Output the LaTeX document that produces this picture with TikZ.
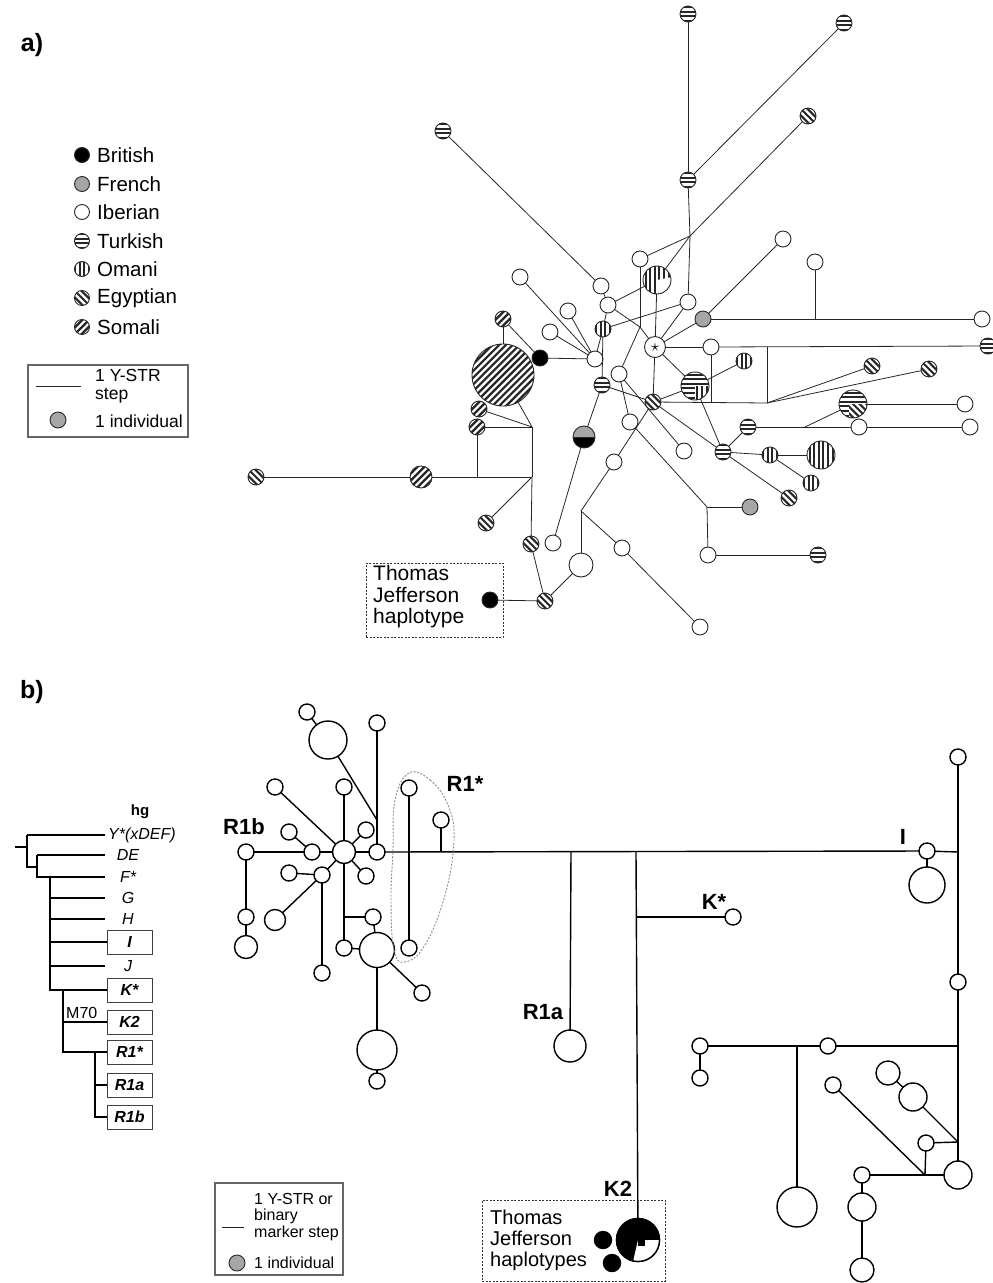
\documentclass[tikz,border=0pt]{standalone}
\usepackage{fontspec}
\setmainfont{Liberation Sans}
\newcommand\HSt[2]{\foreach \i in {-12,...,12}{\draw[line width=#2] (-60pt,{(\i+0.5)*#1}) -- (60pt,{(\i+0.5)*#1});}}
\newcommand\VSt[2]{\foreach \i in {-12,...,12}{\draw[line width=#2] ({(\i+0.5)*#1},-60pt) -- ({(\i+0.5)*#1},60pt);}}
\newcommand\NESt[2]{\foreach \i in {-14,...,14}{\draw[line width=#2] ({\i*#1*1.4142-60pt},-60pt) -- ++(120pt,120pt);}}
\newcommand\NWSt[2]{\foreach \i in {-14,...,14}{\draw[line width=#2] ({\i*#1*1.4142-60pt},60pt) -- ++(120pt,-120pt);}}
\newcommand\fsA{\fontsize{20.5}{23}\selectfont}
\newcommand\fsB{\fontsize{17.5}{18.5}\selectfont}
\newcommand\fsBb{\fontsize{16}{16.8}\selectfont}
\newcommand\fsT{\fontsize{16}{18}\selectfont}
\newcommand\fsL{\fontsize{22}{24}\selectfont\bfseries}
\newcommand\fsJ{\fontsize{21}{21.5}\selectfont}
\newcommand\fsJb{\fontsize{20}{21}\selectfont}
\newcommand\fsH{\fontsize{25}{27}\selectfont\bfseries}
\tikzset{
 pp/.style={path picture={\begin{scope}[shift={(path picture bounding box.center)}]#1\end{scope}}},
 nd/.style={circle, draw=black!85, line width=0.9pt, inner sep=0pt, outer sep=0pt, minimum size=#1, fill=white},
 nd/.default=16pt,
 wa/.style={nd=#1}, wa/.default=16pt,
 bka/.style={nd=#1, fill=black}, bka/.default=16pt,
 fra/.style={nd=#1, fill=black!35}, fra/.default=16pt,
 tka/.style={nd=#1, pp={\HSt{4.6pt}{2pt}}}, tka/.default=16pt,
 oma/.style={nd=#1, pp={\VSt{4.6pt}{2pt}}}, oma/.default=16pt,
 ega/.style={nd=#1, pp={\NWSt{4.7pt}{2.1pt}}}, ega/.default=16pt,
 soa/.style={nd=#1, pp={\NESt{4.8pt}{2.2pt}}}, soa/.default=16pt,
 hga/.style={nd=#1, pp={\fill[black!35] (-20pt,0pt) rectangle (20pt,20pt); \fill[black] (-20pt,0pt) rectangle (20pt,-20pt); \draw[line width=0.8pt] (-20pt,0pt) -- (20pt,0pt);}},
 toa/.style={nd=#1, pp={\HSt{4.6pt}{2pt}\begin{scope}\clip (0pt,0pt) rectangle (20pt,-20pt); \fill[white] (0pt,0pt) rectangle (20pt,-20pt); \VSt{4.6pt}{2pt}\end{scope}}},
 oba/.style={nd=#1, pp={\VSt{4.6pt}{2pt}\fill[white] (0pt,0pt) -- (20pt,4pt) -- (20pt,-20pt) -- (2pt,-20pt) -- cycle;}},
 tea/.style={nd=#1, pp={\HSt{4.6pt}{2pt}\begin{scope}\clip (-4pt,0pt) rectangle (20pt,-20pt); \fill[white] (-4pt,0pt) rectangle (20pt,-20pt); \NWSt{4.7pt}{2.1pt}\end{scope}}},
 la/.style={line width=0.8pt, black!85},
 wb/.style={circle, draw, line width=1.4pt, inner sep=0pt, outer sep=0pt, minimum size=#1, fill=white}, wb/.default=16pt,
 bkb/.style={wb=#1, fill=black}, bkb/.default=16pt,
 lb/.style={line width=1.4pt},
 tr/.style={line width=2pt},
 hbox/.style={draw=black!75, line width=1pt, minimum width=45pt, minimum height=24pt, inner sep=0pt, font=\fsT\bfseries\itshape},
 hlab/.style={inner sep=0pt, font=\fsT\itshape},
 tjbox/.style={draw=black!80, dash pattern=on 2pt off 1.5pt, line width=1pt, inner sep=0pt},
 lgbox/.style={draw=black!60, line width=1.1pt, inner sep=0pt},
 lab/.style={inner sep=0pt, font=\fsL},
}
\begin{document}
\begin{tikzpicture}[x=1pt,y=-1pt]
\useasboundingbox (0,0) rectangle (993,1283);
\node[font=\fsH, inner sep=0pt] (pa) at (32,45) {a)};
\node[font=\fsH, inner sep=0pt] (pb) at (32,692) {b)};

% ---------- legend a
\node[bka=15pt] (lgB) at (82,155) {};
\node[fra=15pt] (lgF) at (82,184) {};
\node[wa=15pt] (lgI) at (82,212) {};
\node[tka=15pt] (lgT) at (82,241) {};
\node[oma=15pt] (lgO) at (82,269) {};
\node[ega=15pt] (lgE) at (82,298) {};
\node[soa=15pt] (lgS) at (82,327) {};
\node[anchor=west, font=\fsA, inner sep=0pt] (lgBt) at (97,155) {British};
\node[anchor=west, font=\fsA, inner sep=0pt] (lgFt) at (97,184) {French};
\node[anchor=west, font=\fsA, inner sep=0pt] (lgIt) at (97,212) {Iberian};
\node[anchor=west, font=\fsA, inner sep=0pt] (lgTt) at (97,241) {Turkish};
\node[anchor=west, font=\fsA, inner sep=0pt] (lgOt) at (97,269) {Omani};
\node[anchor=west, font=\fsA, inner sep=0pt] (lgEt) at (97,298) {Egyptian};
\node[anchor=west, font=\fsA, inner sep=0pt] (lgSt) at (97,327) {Somali};
\node[lgbox, minimum width=160pt, minimum height=72pt] (lgA) at (108,401) {};
\coordinate (lsA1) at (36,386);
\coordinate (lsA2) at (81,386);
\draw[la] (lsA1) -- (lsA2);
\node[anchor=west, align=left, font=\fsB, inner sep=0pt] (lgAt) at (95,386) {1 Y-STR\\step};
\node[fra=16pt] (lgAc) at (58,420) {};
\node[anchor=west, font=\fsB, inner sep=0pt] (lgAi) at (95,421) {1 individual};

% ---------- network a nodes
\node[tka] (t1) at (688,14) {};
\node[tka] (t2) at (844,23) {};
\node[ega] (e1) at (808,116) {};
\node[tka] (t3) at (688,180) {};
\coordinate (j1) at (690,236);
\node[tka] (t4) at (443,131) {};
\node[wa] (w1) at (640,259) {};
\node[wa] (w2) at (783,239) {};
\node[wa] (w3) at (815,262) {};
\node[oba=28pt] (ob) at (657,280) {};
\node[wa] (w4) at (520,277) {};
\node[wa] (w5) at (601,286) {};
\node[wa] (w6) at (608,305) {};
\node[wa] (w7) at (688,302) {};
\node[wa] (w8) at (568,311) {};
\node[soa] (s1) at (503,319) {};
\node[fra] (fr1) at (703,319) {};
\node[wa] (w9) at (982,319) {};
\coordinate (jw3) at (815,319);
\coordinate (j2) at (640,327);
\node[wa] (w10) at (550,332) {};
\node[oma] (o1) at (603,329) {};
\node[wa=21pt, font=\fontsize{17}{17}\selectfont] (st) at (655,347) {$\star$};
\node[wa] (w11) at (711,347) {};
\node[tka] (t5) at (988,346) {};
\coordinate (ja) at (711,403);
\coordinate (jb) at (767,347);
\coordinate (jc) at (767,403);
\node[bka] (bk1) at (540,358) {};
\node[wa] (w12) at (595,359) {};
\node[oma] (o2) at (744,361) {};
\node[soa=62pt] (sb) at (503,375) {};
\node[wa] (w13) at (619,374) {};
\node[tka] (t6) at (602,385) {};
\node[ega] (e2) at (872,366) {};
\node[ega] (e3) at (929,369) {};
\node[toa=28pt] (tob) at (695,386) {};
\node[ega] (e4) at (653,402) {};
\node[tea=28pt] (teb) at (853,404) {};
\node[wa] (w14) at (965,404) {};
\node[soa] (s2) at (479,409) {};
\node[wa] (w15) at (630,422) {};
\node[soa] (s3) at (477,427) {};
\coordinate (jd) at (532,427);
\node[tka] (t7) at (748,427) {};
\node[wa] (w16) at (859,427) {};
\node[wa] (w17) at (970,427) {};
\coordinate (je) at (805,427);
\node[hga=22pt] (hg) at (584,437) {};
\node[wa] (w18) at (684,451) {};
\node[tka] (t8) at (723,452) {};
\node[oma] (o3) at (770,455) {};
\node[oma=28pt] (o5) at (821,455) {};
\node[wa] (w19) at (614,462) {};
\node[ega] (e5) at (256,477) {};
\node[soa=22pt] (s4) at (421,477) {};
\coordinate (jf) at (477,477);
\coordinate (jg) at (532,477);
\node[oma] (o4) at (811,483) {};
\node[ega] (e6) at (789,498) {};
\coordinate (jh) at (707,507);
\node[fra] (fr2) at (750,507) {};
\coordinate (ji) at (581,511);
\node[ega] (e7) at (486,523) {};
\node[wa] (w20) at (553,543) {};
\node[ega] (e8) at (531,544) {};
\node[wa] (w21) at (622,548) {};
\node[wa] (w22) at (708,555) {};
\node[tka] (t9) at (818,555) {};
\node[wa=24pt] (w23) at (581,565) {};
\node[bka] (bk2) at (490,600) {};
\node[ega] (e9) at (545,601) {};
\node[wa] (w24) at (700,627) {};

% ---------- network a edges
\draw[la] (t1) -- (t3);
\draw[la] (t2) -- (t3);
\draw[la] (t3) -- (j1);
\draw[la] (e1) -- (j1);
\draw[la] (j1) -- (w1);
\draw[la] (j1) -- (ob);
\draw[la] (j1) -- (w7);
\draw[la] (w2) -- (fr1);
\draw[la] (fr1) -- (w9);
\draw[la] (w3) -- (jw3);
\draw[la] (t4) -- (w5);
\draw[la] (w5) -- (w6);
\draw[la] (w1) -- (j2);
\draw[la] (w6) -- (j2);
\draw[la] (j2) -- (st);
\draw[la] (j2) -- (w13);
\draw[la] (ob) -- (st);
\draw[la] (ob) -- (w6);
\draw[la] (w7) -- (st);
\draw[la] (w7) -- (o1);
\draw[la] (fr1) -- (st);
\draw[la] (st) -- (w11);
\draw[la] (w11) -- (t5);
\draw[la] (w11) -- (ja);
\draw[la] (jb) -- (jc);
\draw[la] (e4) -- (jc);
\draw[la] (jc) -- (e2);
\draw[la] (jc) -- (e3);
\draw[la] (o2) -- (tob);
\draw[la] (st) -- (tob);
\draw[la] (tob) -- (e4);
\draw[la] (tob) -- (t8);
\draw[la] (e4) -- (t8);
\draw[la] (st) -- (e4);
\draw[la] (t8) -- (t7);
\draw[la] (t7) -- (w16);
\draw[la] (w16) -- (w17);
\draw[la] (je) -- (teb);
\draw[la] (teb) -- (w14);
\draw[la] (t8) -- (o3);
\draw[la] (o3) -- (o5);
\draw[la] (o3) -- (o4);
\draw[la] (t8) -- (e6);
\draw[la] (t6) -- (e4);
\draw[la] (o1) -- (t6);
\draw[la] (w6) -- (o1);
\draw[la] (w12) -- (o1);
\draw[la] (t6) -- (hg);
\draw[la] (hg) -- (w20);
\draw[la] (w4) -- (w12);
\draw[la] (w8) -- (w12);
\draw[la] (w10) -- (w12);
\draw[la] (bk1) -- (w12);
\draw[la] (s1) -- (bk1);
\draw[la] (s1) -- (sb);
\draw[la] (sb) -- (jd);
\draw[la] (s2) -- (jd);
\draw[la] (s3) -- (jd);
\draw[la] (jd) -- (jg);
\draw[la] (s3) -- (jf);
\draw[la] (e5) -- (s4);
\draw[la] (s4) -- (jg);
\draw[la] (jg) -- (e7);
\draw[la] (jg) -- (e8);
\draw[la] (e8) -- (e9);
\draw[la] (bk2) -- (e9);
\draw[la] (e9) -- (w23);
\draw[la] (w23) -- (ji);
\draw[la] (ji) -- (w19);
\draw[la] (w19) -- (e4);
\draw[la] (ji) -- (w21);
\draw[la] (w21) -- (w24);
\draw[la] (w13) -- (w15);
\draw[la] (w13) -- (w18);
\draw[la] (w15) -- (jh);
\draw[la] (jh) -- (w22);
\draw[la] (jh) -- (fr2);
\draw[la] (w22) -- (t9);

% TJ box a
\node[tjbox, minimum width=137pt, minimum height=74pt] (tjA) at (434.5,600) {};
\node[anchor=west, align=left, font=\fsJ, inner sep=0pt] (tjAt) at (373,597) {Thomas\\Jefferson\\haplotype};

% ---------- tree (panel b)
\node[font=\fontsize{15}{16}\selectfont\bfseries, inner sep=0pt] (hg0) at (140,812) {hg};
\node[anchor=west, hlab] (hY) at (108,835) {Y*(xDEF)};
\node[hlab] (hDE) at (128,855) {DE};
\node[hlab] (hF) at (128,877) {F*};
\node[hlab] (hG) at (128,898) {G};
\node[hlab] (hH) at (128,919) {H};
\node[hbox] (hI) at (129.5,942) {I};
\node[hlab] (hJ) at (128,966) {J};
\node[hbox] (hKs) at (129.5,990) {K*};
\node[hbox] (hK2) at (129.5,1022) {K2};
\node[hbox] (hR1s) at (129.5,1052) {R1*};
\node[hbox] (hR1a) at (129.5,1085) {R1a};
\node[hbox] (hR1b) at (129.5,1117) {R1b};
\node[anchor=west, font=\fsT, inner sep=0pt] (hM) at (66,1013) {M70};
\coordinate (r0) at (15,847);
\coordinate (r1) at (27,847);
\coordinate (r1t) at (27,835);
\coordinate (r1b) at (27,867);
\coordinate (r2b) at (37,867);
\coordinate (r2t) at (37,855);
\coordinate (r2f) at (37,877);
\coordinate (r3t) at (50,877);
\coordinate (r3b) at (50,990);
\coordinate (r4t) at (63,990);
\coordinate (r4b) at (63,1052);
\coordinate (r5t) at (95,1052);
\coordinate (r5b) at (95,1117);
\coordinate (eY) at (105,835);
\coordinate (eDE) at (105,855);
\coordinate (eF) at (105,877);
\coordinate (eG) at (105,898);
\coordinate (eH) at (105,919);
\coordinate (eJ) at (105,966);
\draw[tr] (r0) -- (r1);
\draw[tr] (r1t) -- (r1b) -- (r2b);
\draw[tr] (r1t) -- (eY);
\draw[tr] (r2t) -- (r2f) -- (eF);
\draw[tr] (r2t) -- (eDE);
\draw[tr] (r3t) -- (r3b) -- (hKs.west);
\draw[tr] (r3t |- eG) -- (eG);
\draw[tr] (r3t |- eH) -- (eH);
\draw[tr] (r3t |- hI) -- (hI.west);
\draw[tr] (r3t |- eJ) -- (eJ);
\draw[tr] (r4t) -- (r4b) -- (r5t);
\draw[tr] (r4t |- hK2) -- (hK2.west);
\draw[tr] (r5t) -- (r5b) -- (hR1b.west);
\draw[tr] (r5t) -- (hR1s.west);
\draw[tr] (r5t |- hR1a) -- (hR1a.west);

% ---------- network b nodes
\node[wb] (b1) at (307,712) {};
\node[wb=38pt] (b2) at (328,740) {};
\node[wb] (b3) at (377,723) {};
\node[wb] (b4) at (275,787) {};
\node[wb] (b5) at (344,787) {};
\node[wb] (b6) at (409,788) {};
\node[wb] (b7) at (441,820) {};
\node[wb] (b8) at (289,832) {};
\node[wb] (b9) at (366,830) {};
\node[wb] (b10) at (246,852) {};
\node[wb] (b11) at (312,852) {};
\node[wb=23pt] (hub) at (344,852) {};
\node[wb] (b12) at (377,852) {};
\node[wb] (b13) at (289,873) {};
\node[wb] (b14) at (322,875) {};
\node[wb] (b15) at (366,876) {};
\node[wb] (b16) at (246,917) {};
\node[wb=21pt] (b17) at (275,920) {};
\node[wb] (b18) at (373,917) {};
\node[wb=23pt] (b19) at (246,947) {};
\node[wb] (b20) at (344,948) {};
\node[wb=35pt] (b21) at (377,950) {};
\node[wb] (b22) at (409,948) {};
\node[wb] (b23) at (322,973) {};
\node[wb] (b24) at (422,993) {};
\node[wb=40pt] (b25) at (377,1050) {};
\node[wb] (b26) at (377,1081) {};
\node[wb=32pt] (bR1a) at (570,1046) {};
\node[wb] (bKs) at (733,917) {};
\node[bkb=43pt] (bK2) at (638,1240) {};
\node[bkb=17pt] (kb1) at (603,1240) {};
\node[bkb=17pt] (kb2) at (612,1263) {};
\node[wb] (bI1) at (927,851) {};
\node[wb=36pt] (bIb) at (927,885) {};
\node[wb] (bt) at (958,757) {};
\node[wb] (b30) at (958,982) {};
\node[wb] (b31) at (700,1046) {};
\node[wb] (b32) at (700,1078) {};
\node[wb] (b33) at (828,1046) {};
\node[wb=40pt] (b34) at (797,1207) {};
\node[wb=24pt] (b35) at (888,1073) {};
\node[wb=28pt] (b36) at (913,1097) {};
\node[wb] (b37) at (833,1085) {};
\node[wb] (b38) at (926,1143) {};
\node[wb=28pt] (b39) at (958,1175) {};
\node[wb] (b40) at (862,1175) {};
\node[wb=28pt] (b41) at (862,1207) {};
\node[wb=24pt] (b42) at (862,1270) {};
\coordinate (jv) at (377,820);
\coordinate (jh917) at (344,917);
\coordinate (jx7) at (441,852);
\coordinate (jR1a) at (571,852);
\coordinate (jK) at (636,852);
\coordinate (jKs) at (636,917);
\coordinate (jR) at (958,852);
\coordinate (jr1046) at (958,1046);
\coordinate (jm) at (797,1046);
\coordinate (j1142) at (958,1142);
\coordinate (j1175) at (925,1175);

% pie wedge on K2
\fill[white] (bK2.center) -- ++(21.5pt,0pt) arc[start angle=0, end angle=-103, radius=21.5pt] -- cycle;
\fill[black] (bK2.center) rectangle ++(7pt,-6pt);
\draw[line width=1.4pt] (bK2) circle[radius=21.5pt];

% ---------- network b edges
\draw[lb] (b1) -- (b2);
\draw[lb] (b2) -- (jv);
\draw[lb] (b3) -- (jv) -- (b12);
\draw[lb] (b4) -- (hub);
\draw[lb] (b5) -- (hub);
\draw[lb] (b9) -- (hub);
\draw[lb] (b8) -- (b11);
\draw[lb] (b10) -- (b11);
\draw[lb] (b11) -- (hub);
\draw[lb] (hub) -- (b12);
\draw[lb] (b12) -- (bI1);
\draw[lb] (bI1) -- (jR);
\draw[lb] (b6) -- (b22);
\draw[lb] (b7) -- (jx7);
\draw[lb] (b13) -- (b14);
\draw[lb] (b14) -- (hub);
\draw[lb] (b15) -- (hub);
\draw[lb] (b17) -- (b14);
\draw[lb] (b14) -- (b23);
\draw[lb] (hub) -- (jh917) -- (b20);
\draw[lb] (jh917) -- (b18);
\draw[lb] (b18) -- (b21);
\draw[lb] (b20) -- (b21);
\draw[lb] (b21) -- (b24);
\draw[lb] (b21) -- (b25);
\draw[lb] (b25) -- (b26);
\draw[lb] (b10) -- (b16);
\draw[lb] (b16) -- (b19);
\draw[lb] (jR1a) -- (bR1a);
\draw[lb] (jK) -- (bK2);
\draw[lb] (jKs) -- (bKs);
\draw[lb] (bI1) -- (bIb);
\draw[lb] (bt) -- (jR) -- (b30);
\draw[lb] (b30) -- (jr1046) -- (j1142) -- (b39);
\draw[lb] (b31) -- (b33);
\draw[lb] (b33) -- (jr1046);
\draw[lb] (jm) -- (b34);
\draw[lb] (b31) -- (b32);
\draw[lb] (b35) -- (b36);
\draw[lb] (b36) -- (j1142);
\draw[lb] (b37) -- (j1175);
\draw[lb] (b38) -- (j1142);
\draw[lb] (b38) -- (j1175);
\draw[lb] (b40) -- (b39);
\draw[lb] (b40) -- (b41);
\draw[lb] (b41) -- (b42);

% R1* outline
\draw[black!45, dash pattern=on 2pt off 1.5pt, line width=0.9pt] plot[smooth cycle, tension=0.7] coordinates {(409,773) (430,780) (448,805) (454,840) (445,895) (425,945) (405,962) (394,950) (391,900) (393,850) (395,800)};

% labels b
\node[lab] (tR1b) at (244,827) {R1b};
\node[lab] (tR1s) at (465,784) {R1*};
\node[lab] (tI) at (903,837) {I};
\node[lab] (tKs) at (714,902) {K*};
\node[lab] (tR1a) at (543,1012) {R1a};
\node[lab] (tK2) at (618,1189) {K2};

% legend b
\node[lgbox, minimum width=128pt, minimum height=92pt] (lgBb) at (279,1229) {};
\coordinate (lsB1) at (222,1227);
\coordinate (lsB2) at (244,1227);
\draw[la] (lsB1) -- (lsB2);
\node[anchor=west, align=left, font=\fsBb, inner sep=0pt] (lgBbt) at (254,1217) {1 Y-STR or\\binary\\marker step};
\node[fra=16pt] (lgBbc) at (237,1263) {};
\node[anchor=west, font=\fsBb, inner sep=0pt] (lgBbi) at (254,1263) {1 individual};

% TJ box b
\node[tjbox, minimum width=183pt, minimum height=81pt] (tjB) at (573.5,1240.5) {};
\node[anchor=west, align=left, font=\fsJb, inner sep=0pt] (tjBt) at (490,1240) {Thomas\\Jefferson\\haplotypes};
\end{tikzpicture}
\end{document}
